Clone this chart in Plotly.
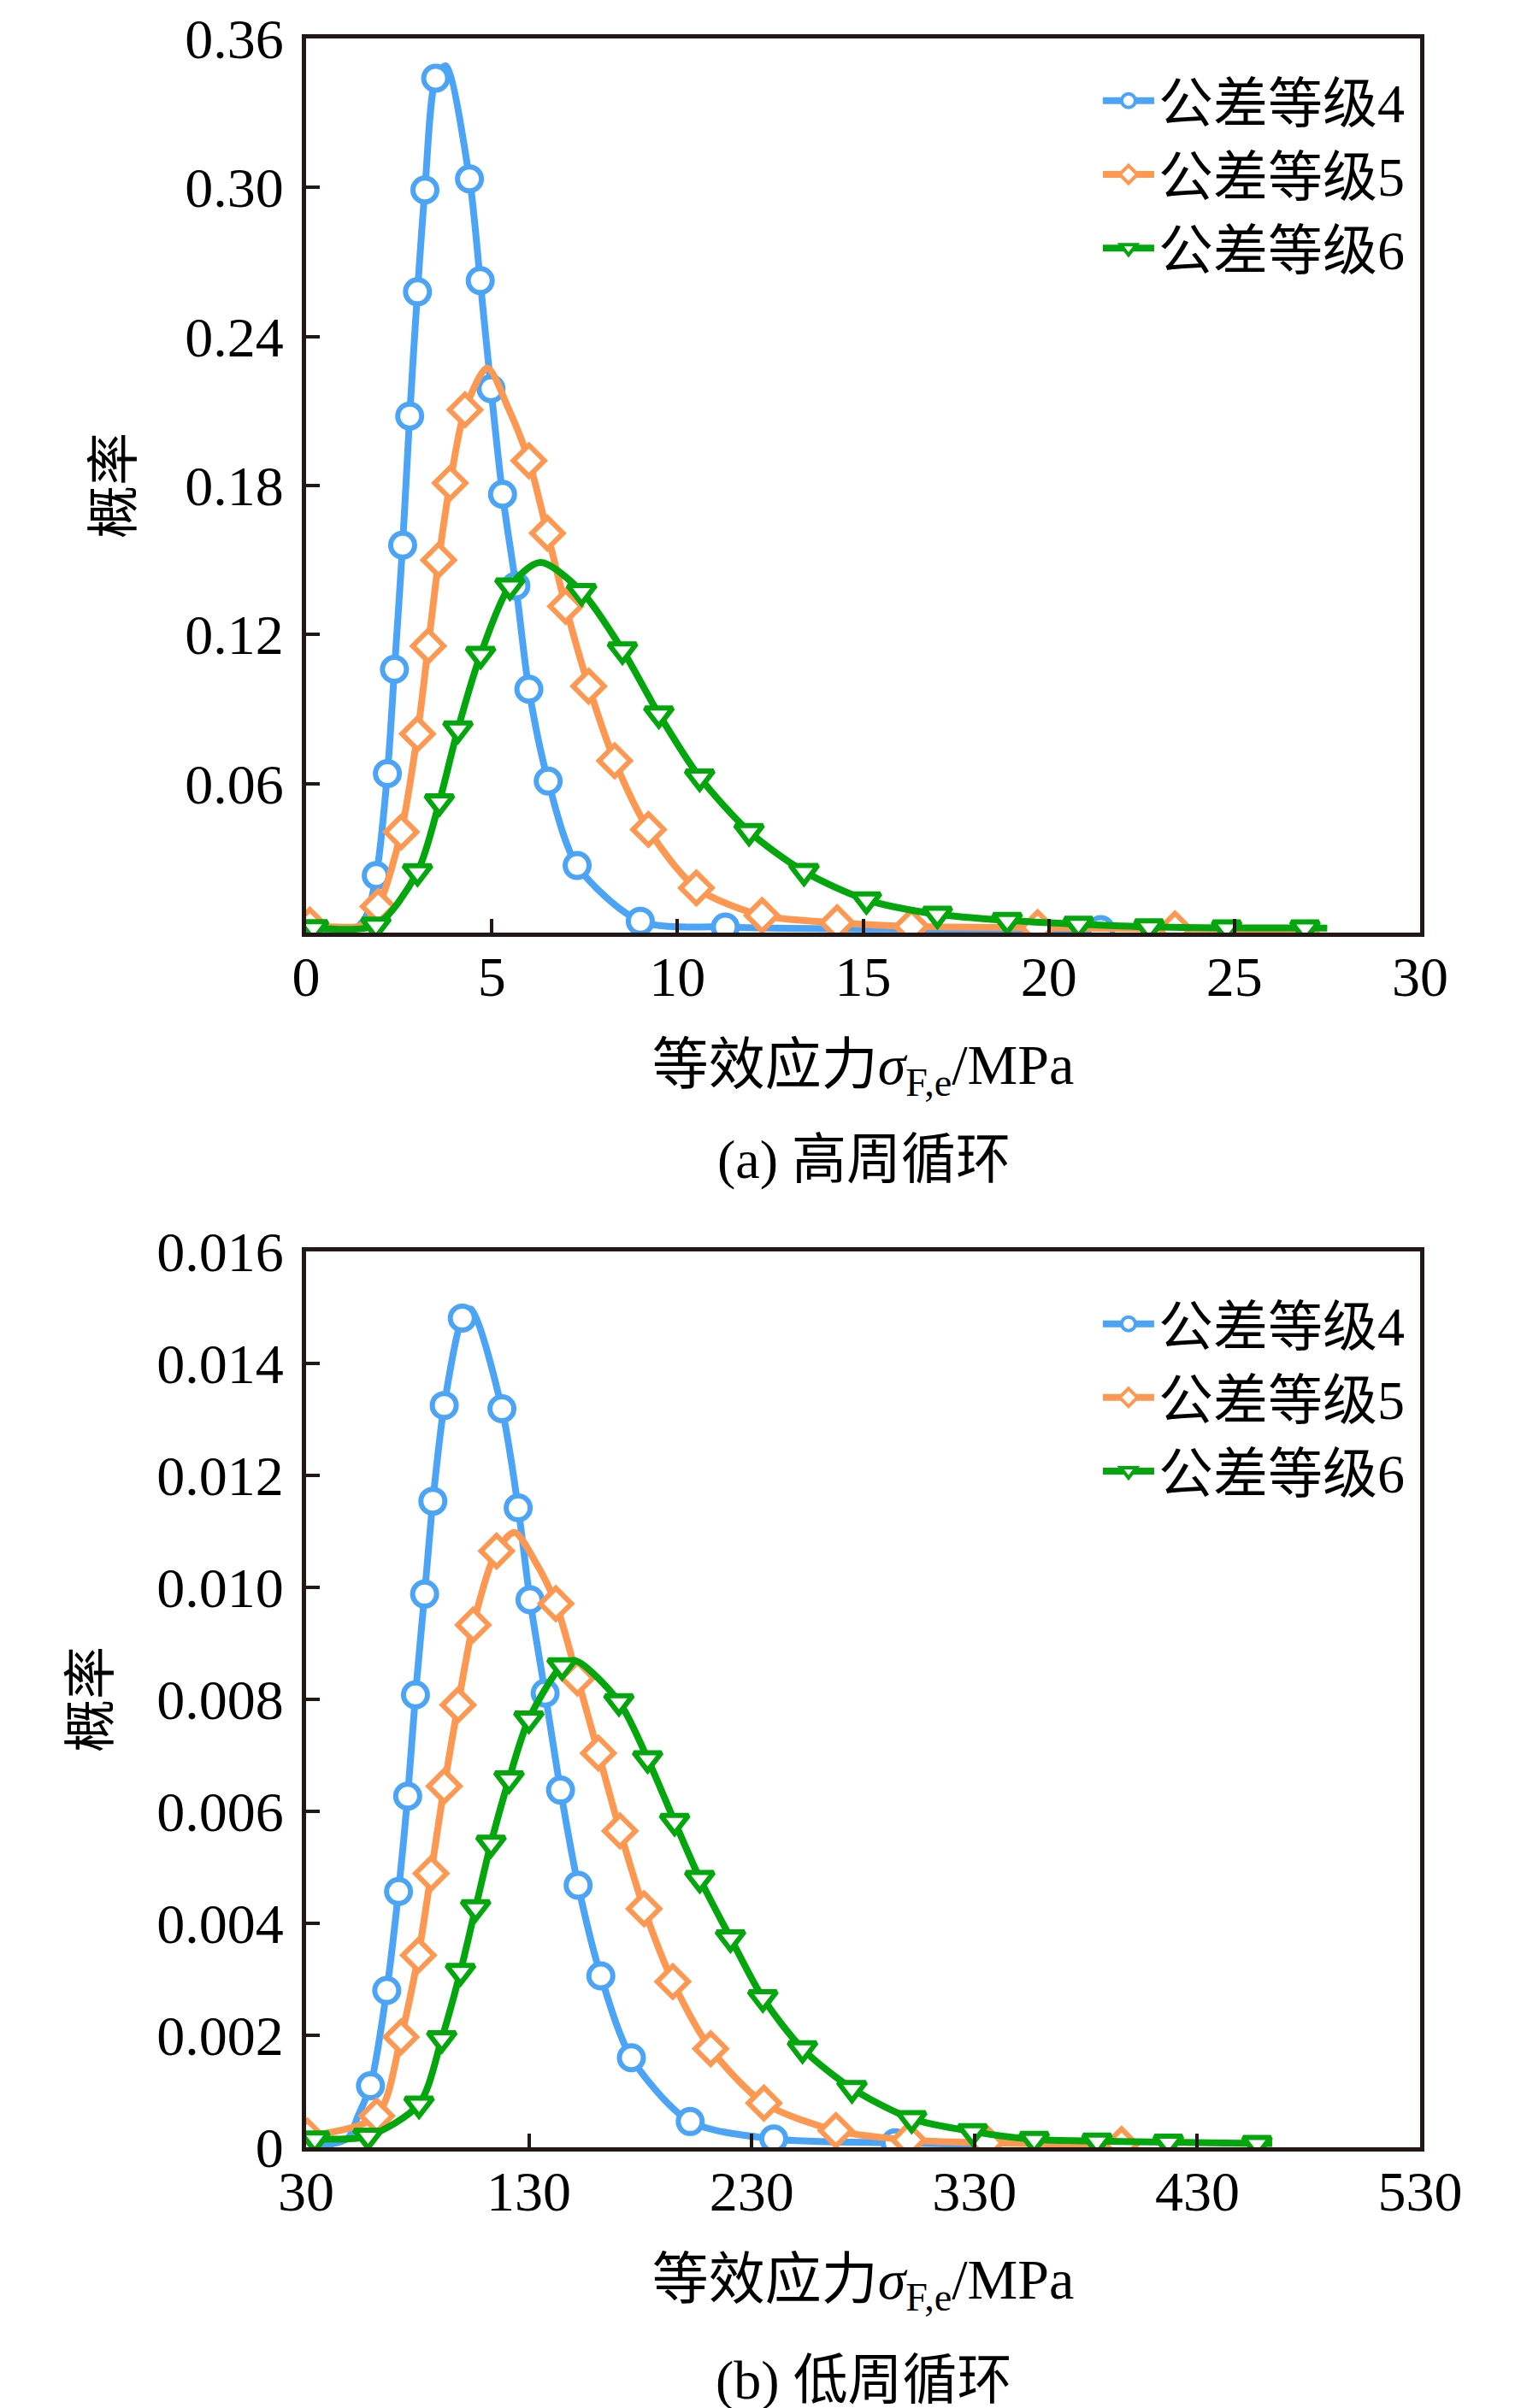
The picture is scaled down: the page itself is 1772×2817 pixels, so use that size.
import plotly.graph_objects as go

# ---- (a) high cycle, marker points ----
a4_x = [1.89, 2.19, 2.38, 2.60, 2.79, 3.00, 3.20, 3.49, 4.40, 4.69, 4.98, 5.29, 5.65, 6.00, 6.52, 7.30, 9.00, 11.29, 21.4]
a4_y = [0.023, 0.064, 0.106, 0.156, 0.208, 0.258, 0.299, 0.344, 0.3035, 0.2625, 0.219, 0.1765, 0.1396, 0.098, 0.061, 0.027, 0.0046, 0.0022, 0.0012]
a5_x = [0.1, 1.94, 2.56, 3.00, 3.29, 3.57, 3.88, 4.28, 6.00, 6.50, 6.99, 7.61, 8.31, 9.22, 10.51, 12.28, 14.3, 16.3, 19.7, 23.4]
a5_y = [0.003, 0.0105, 0.0405, 0.080, 0.1154, 0.150, 0.181, 0.2105, 0.190, 0.1608, 0.1314, 0.0992, 0.0692, 0.0415, 0.018, 0.0069, 0.004, 0.0025, 0.002, 0.0015]
a6_x = [0.2, 1.88, 3.00, 3.59, 4.09, 4.70, 5.49, 7.42, 8.52, 9.50, 10.60, 11.93, 13.41, 15.09, 17.0, 18.88, 20.8, 22.7, 24.79, 26.9]
a6_y = [0.002, 0.003, 0.0245, 0.0527, 0.082, 0.112, 0.1396, 0.1373, 0.1138, 0.088, 0.0626, 0.0407, 0.0246, 0.0132, 0.0074, 0.0049, 0.0034, 0.0023, 0.0019, 0.0019]

# extra points on the curves only (peaks and tails, no markers there)
a4_cx = [0.0, 1.2, 1.6, 3.76, 15.0]
a4_cy = [0.0003, 0.0005, 0.006, 0.349, 0.0015]
a5_cx = [1.5, 4.88, 5.45, 27.3]
a5_cy = [0.003, 0.2273, 0.211, 0.0012]
a6_cx = [6.31, 27.5]
a6_cy = [0.149, 0.0018]

# ---- (b) low cycle ----
b4_x = [58.9, 66.2, 71.5, 75.6, 79.1, 83.2, 86.9, 92.0, 100.1, 117.9, 125.2, 130.5, 137.3, 144.2, 152.1, 162.3, 176.0, 202.4, 239.9, 294.4]
b4_y = [0.0011, 0.0028, 0.00457, 0.00627, 0.00808, 0.00988, 0.01154, 0.01325, 0.01481, 0.01319, 0.01142, 0.00978, 0.00811, 0.00638, 0.00468, 0.00306, 0.0016, 0.00046, 0.00015, 0.00008]
b5_x = [30.6, 61.7, 72.6, 80.4, 86.1, 92.0, 98.2, 105.0, 115.5, 142.1, 151.8, 161.2, 170.9, 181.7, 194.6, 211.6, 235.5, 267.8, 300.4, 335.5, 396.0]
b5_y = [0.0002, 0.00056, 0.00197, 0.00343, 0.00489, 0.00645, 0.0079, 0.00933, 0.01065, 0.00971, 0.00838, 0.00704, 0.00565, 0.00426, 0.00296, 0.00176, 0.00079, 0.0003, 0.00013, 0.00008, 0.00005]
b6_x = [33.9, 57.8, 80.7, 90.9, 99.3, 106.1, 113.0, 121.1, 130.0, 144.9, 170.4, 183.3, 195.4, 206.7, 220.5, 235.0, 252.8, 275.0, 301.8, 329.1, 356.8, 385.0, 417.0, 456.8]
b6_y = [0.00015, 0.0002, 0.00077, 0.00194, 0.00314, 0.00428, 0.00543, 0.00658, 0.00765, 0.0086, 0.00796, 0.00694, 0.00582, 0.0048, 0.00374, 0.00267, 0.00176, 0.00105, 0.00051, 0.00028, 0.00014, 0.00011, 0.00009, 0.00007]

b4_cx = [30.0, 48.4, 53.3, 104.0, 330.0]
b4_cy = [0.0, 0.00015, 0.00056, 0.01497, 0.00005]
b5_cx = [123.5, 133.0, 400.0]
b5_cy = [0.01098, 0.01045, 0.00005]
b6_cx = [151.0, 463.6]
b6_cy = [0.00869, 0.00007]

names = ["公差等级4", "公差等级5", "公差等级6"]
colors = ["#4ca4f6", "#fd9852", "#03a70d"]
symbols = ["circle", "diamond", "triangle-down"]

a_xticks = [0, 5, 10, 15, 20, 25, 30]
a_yticks = [0.06, 0.12, 0.18, 0.24, 0.30, 0.36]
a_ytext = ["0.06", "0.12", "0.18", "0.24", "0.30", "0.36"]
b_xticks = [30, 130, 230, 330, 430, 530]
b_yticks = [0, 0.002, 0.004, 0.006, 0.008, 0.010, 0.012, 0.014, 0.016]
b_ytext = ["0", "0.002", "0.004", "0.006", "0.008", "0.010", "0.012", "0.014", "0.016"]

FONT = "Liberation Serif, Times New Roman, Noto Sans CJK SC, serif"
AX = "#231815"


def curve(x, y, cx, cy):
    pts = sorted(zip(x + cx, y + cy))
    return [p[0] for p in pts], [p[1] for p in pts]


fig = go.Figure()

panels = [
    ("x", "y", "legend", [(a4_x, a4_y, a4_cx, a4_cy), (a5_x, a5_y, a5_cx, a5_cy), (a6_x, a6_y, a6_cx, a6_cy)]),
    ("x2", "y2", "legend2", [(b4_x, b4_y, b4_cx, b4_cy), (b5_x, b5_y, b5_cx, b5_cy), (b6_x, b6_y, b6_cx, b6_cy)]),
]

for xa, ya, leg, series in panels:
    for i, (x, y, cx, cy) in enumerate(series):
        lx, ly = curve(x, y, cx, cy)
        fig.add_trace(go.Scatter(
            x=lx, y=ly, xaxis=xa, yaxis=ya, mode="lines",
            line=dict(color=colors[i], width=8, shape="spline", smoothing=0.8),
            showlegend=False, hoverinfo="skip"))
        fig.add_trace(go.Scatter(
            x=x, y=y, xaxis=xa, yaxis=ya, mode="markers",
            marker=dict(symbol=symbols[i], size=28, color="white",
                        line=dict(color=colors[i], width=6)),
            showlegend=False))
        # legend entry only
        fig.add_trace(go.Scatter(
            x=[None], y=[None], xaxis=xa, yaxis=ya, mode="lines+markers",
            name=names[i], legend=leg,
            line=dict(color=colors[i], width=8),
            marker=dict(symbol=symbols[i], size=16, color="white",
                        line=dict(color=colors[i], width=4))))

axis_style = dict(showline=True, linecolor=AX, linewidth=5, mirror=True,
                  ticks="inside", ticklen=16, tickwidth=4, tickcolor=AX,
                  showgrid=False, zeroline=False,
                  tickfont=dict(size=66, color="black", family=FONT))

xtitle = "等效应力<i>σ</i><sub>F,e</sub>/MPa"

fig.update_layout(
    width=1772, height=2817,
    margin=dict(l=350, r=119, t=37, b=313, autoexpand=False),
    paper_bgcolor="white", plot_bgcolor="white",
    font=dict(family=FONT, color="black"),
    xaxis=dict(axis_style, domain=[0, 1], anchor="y", range=[0, 30], tickvals=a_xticks,
               ticklabelstandoff=-10,
               title=dict(text=xtitle, font=dict(size=66), standoff=45)),
    yaxis=dict(axis_style, domain=[0.576, 1], anchor="x", range=[0, 0.36],
               tickvals=a_yticks, ticktext=a_ytext, ticklabelstandoff=8,
               title=dict(text="概率", font=dict(size=62), standoff=42)),
    xaxis2=dict(axis_style, domain=[0, 1], anchor="y2", range=[30, 530], tickvals=b_xticks,
                ticklabelstandoff=-10,
                title=dict(text=xtitle, font=dict(size=66), standoff=45)),
    yaxis2=dict(axis_style, domain=[0, 0.4248], anchor="x2", range=[0, 0.016],
                tickvals=b_yticks, ticktext=b_ytext, ticklabelstandoff=8,
                title=dict(text="概率", font=dict(size=62), standoff=36)),
    legend=dict(x=0.99, y=0.99, xanchor="right", yanchor="top",
                font=dict(size=64, family=FONT), bgcolor="rgba(0,0,0,0)",
                tracegroupgap=0, itemwidth=60),
    legend2=dict(x=0.99, y=0.41, xanchor="right", yanchor="top",
                 font=dict(size=64, family=FONT), bgcolor="rgba(0,0,0,0)",
                 tracegroupgap=0, itemwidth=60),
    annotations=[
        dict(text="(a) 高周循环", xref="paper", yref="paper", x=0.501, y=0.4685,
             xanchor="center", yanchor="middle", showarrow=False,
             font=dict(size=64, family=FONT, color="black")),
        dict(text="(b) 低周循环", xref="paper", yref="paper", x=0.501, y=-0.1105,
             xanchor="center", yanchor="middle", showarrow=False,
             font=dict(size=64, family=FONT, color="black")),
    ],
)

fig.write_html("out.html")
